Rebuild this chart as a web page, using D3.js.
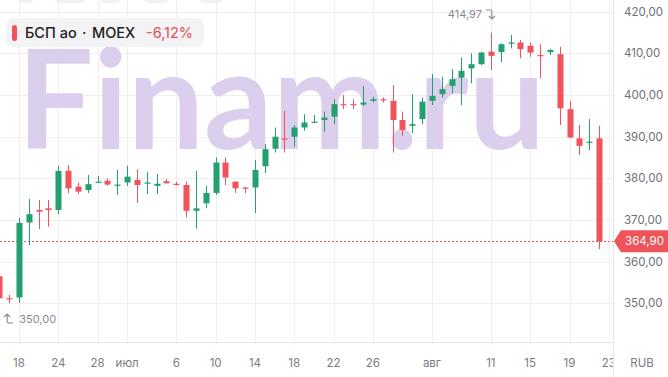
<!DOCTYPE html>
<html><head><meta charset="utf-8">
<script src="https://cdn.jsdelivr.net/npm/d3@7"></script>
<style>html,body{margin:0;padding:0;background:#fff;}svg{display:block;font-family:Inter,"Noto Sans",sans-serif;}</style>
</head><body>
<svg id="c" width="668" height="377"></svg>
<script>
// ---- data ----
const openV  = [356.5,351.2,351.4,369.4,372.4,372.8,372.4,381.8,378.0,377.2,379.0,379.4,378.2,379.0,379.6,378.8,378.2,379.3,378.7,378.4,372.2,374.0,376.5,383.8,379.2,377.8,377.8,382.9,387.1,389.6,390.0,392.2,393.4,394.0,394.8,397.8,397.8,397.7,398.6,399.0,398.6,394.0,392.6,394.2,398.6,400.2,402.2,404.2,406.4,407.4,410.4,410.3,412.5,412.6,411.8,409.6,410.3,409.8,396.6,389.6,388.5,389.6];
const highV  = [357.2,352.0,370.5,375.0,374.8,374.8,383.0,383.2,379.0,380.8,380.6,380.0,382.0,383.0,382.2,381.6,381.0,379.8,379.2,379.2,381.8,378.2,385.0,385.0,379.2,378.0,384.4,388.2,392.2,396.2,392.8,395.4,395.2,396.0,399.0,400.0,399.0,402.2,399.6,399.4,402.4,396.0,400.2,399.4,405.0,404.4,406.2,409.0,410.0,410.4,414.97,412.4,414.4,413.2,412.6,412.2,411.0,411.6,398.6,392.8,394.2,392.6];
const lowV   = [350.6,350.0,350.1,364.0,367.8,368.4,371.4,376.4,376.2,376.5,379.0,378.2,376.0,378.2,374.1,376.2,376.2,378.8,378.3,370.6,367.9,372.8,376.0,378.4,376.5,376.5,371.7,381.3,386.2,386.2,387.6,391.4,393.4,391.2,393.0,396.6,396.6,397.3,398.2,398.2,386.2,390.2,390.8,393.0,397.6,399.4,400.4,397.6,402.8,407.2,406.0,407.9,411.2,408.8,409.2,404.0,409.6,392.8,389.6,385.6,386.8,363.0];
const closeV = [351.2,351.0,369.3,371.4,372.0,372.4,381.8,377.6,376.8,378.6,379.2,378.5,378.5,380.4,378.4,379.0,378.7,378.8,378.5,372.2,372.8,376.5,383.8,380.2,377.6,377.5,382.0,387.0,390.0,389.3,392.2,393.4,393.6,394.6,397.8,397.6,397.6,398.2,399.0,398.8,394.0,391.6,393.0,398.4,399.8,401.4,403.8,405.8,407.4,410.2,409.4,412.2,412.6,411.0,410.2,409.4,410.8,396.8,389.8,387.8,388.8,364.9];
const xTickIdx    = [2,6,10,13,18,22,26,30,34,38,44,50,54,58,62];
const xTickLabels = ["18","24","28","июл","6","10","14","18","22","26","авг","11","15","19","23"];
const yTicks = [350,360,370,380,390,400,410,420];
const lastPrice = 364.90, maxHigh = 414.97, minLow = 350.00;
const maxIdx = 50, minIdx = 1;

// ---- layout ----
const W = 668, H = 377, plotR = 613, plotB = 342;
const GREEN = "#22a06f", RED = "#f0535a";
const svg = d3.select("#c");
const x = d3.scaleLinear().domain([2, 61]).range([19, 599]);
const y = d3.scaleLinear().domain([350, 420]).range([303.3, 11.7]);
const fmt = v => d3.format(".2f")(v).replace(".", ",");

svg.append("defs").append("clipPath").attr("id","plotclip")
  .append("rect").attr("x",0).attr("y",0).attr("width",plotR).attr("height",H);

// top faint toolbar shapes
[[18,33],[55,85],[100,120],[145,168],[200,222]].forEach(([a,b])=>{
  svg.append("rect").attr("x",a).attr("y",-8).attr("width",b-a).attr("height",11).attr("rx",4).attr("fill","#f1f1f3");
});

// grid
const grid = svg.append("g").attr("clip-path","url(#plotclip)");
grid.selectAll("line.h").data(yTicks).join("line")
  .attr("x1",0).attr("x2",plotR).attr("y1",d=>Math.round(y(d))+0.5).attr("y2",d=>Math.round(y(d))+0.5)
  .attr("stroke","#efeff1").attr("stroke-width",1);
grid.selectAll("line.v").data(xTickIdx).join("line")
  .attr("x1",d=>Math.round(x(d))+0.5).attr("x2",d=>Math.round(x(d))+0.5).attr("y1",0).attr("y2",plotB)
  .attr("stroke","#efeff1").attr("stroke-width",1);

// watermark
svg.append("text").attr("x",17).attr("y",149)
  .attr("font-family","Lato, Inter, sans-serif").attr("font-weight",700).attr("font-size",138)
  .attr("textLength",528).attr("lengthAdjust","spacingAndGlyphs")
  .attr("fill","#dccfee").text("Finam.ru");

// axes borders
svg.append("line").attr("x1",plotR+0.5).attr("x2",plotR+0.5).attr("y1",0).attr("y2",H).attr("stroke","#e4e4e7");
svg.append("line").attr("x1",0).attr("x2",plotR).attr("y1",plotB+0.5).attr("y2",plotB+0.5).attr("stroke","#e4e4e7");

// last price dotted line
svg.append("line").attr("x1",0).attr("x2",plotR).attr("y1",Math.round(y(lastPrice))+0.5).attr("y2",Math.round(y(lastPrice))+0.5)
  .attr("stroke",RED).attr("stroke-width",1).attr("stroke-dasharray","2,2");

// candles
const idx = d3.range(openV.length);
const cg = svg.append("g").attr("clip-path","url(#plotclip)");
const col = i => closeV[i] >= openV[i] ? GREEN : RED;
cg.selectAll("line.w").data(idx).join("line")
  .attr("x1",i=>Math.round(x(i))+0.5).attr("x2",i=>Math.round(x(i))+0.5)
  .attr("y1",i=>y(highV[i])).attr("y2",i=>y(lowV[i]))
  .attr("stroke",col).attr("stroke-width",1);
cg.selectAll("rect.b").data(idx).join("rect")
  .attr("x",i=>Math.round(x(i))-2.5).attr("width",6)
  .attr("y",i=>y(Math.max(openV[i],closeV[i])))
  .attr("height",i=>Math.max(1.2, Math.abs(y(openV[i])-y(closeV[i]))))
  .attr("fill",col);

// y axis labels
svg.append("g").selectAll("text").data(yTicks).join("text")
  .attr("x",624).attr("y",d=>y(d)).attr("dy","0.35em")
  .attr("font-size",11.5).attr("fill","#6f6f76").text(fmt);

// price badge
const py = y(lastPrice);
svg.append("path").attr("d",`M614,${py} L621,${py-11} L668,${py-11} L668,${py+11} L621,${py+11} Z`).attr("fill",RED);
svg.append("text").attr("x",644.5).attr("y",py).attr("dy","0.36em").attr("text-anchor","middle")
  .attr("font-size",11.5).attr("fill","#fff").text(fmt(lastPrice));

// x axis labels
const xg = svg.append("g").attr("clip-path","url(#plotclip)");
xg.selectAll("text").data(xTickIdx).join("text")
  .attr("x",d=>x(d)).attr("y",363).attr("dy","0.35em").attr("text-anchor","middle")
  .attr("font-size",11.5).attr("fill","#7b7b82").text((d,i)=>xTickLabels[i]);
svg.append("text").attr("x",642).attr("y",363).attr("dy","0.35em").attr("text-anchor","middle")
  .attr("font-size",11.5).attr("fill","#7b7b82").text("RUB");

// max / min annotations
const mx = x(maxIdx), myy = 14;
svg.append("text").attr("x",mx-9).attr("y",myy).attr("dy","0.35em").attr("text-anchor","end")
  .attr("font-size",11).attr("fill","#8a8a90").text(fmt(maxHigh));
svg.append("path").attr("d",`M${mx-5},${myy-4} L${mx-1},${myy-4} Q${mx+1},${myy-4} ${mx+1},${myy-2} L${mx+1},${myy+5} M${mx-2},${myy+2} L${mx+1},${myy+5} L${mx+4},${myy+2}`)
  .attr("fill","none").attr("stroke","#8a8a90").attr("stroke-width",1.1);
const nx = x(minIdx)-1, ny = 319;
svg.append("text").attr("x",nx+11).attr("y",ny).attr("dy","0.35em")
  .attr("font-size",11).attr("fill","#8a8a90").text(fmt(minLow));
svg.append("path").attr("d",`M${nx+5},${ny+4} L${nx+1},${ny+4} Q${nx-1},${ny+4} ${nx-1},${ny+2} L${nx-1},${ny-5} M${nx-4},${ny-2} L${nx-1},${ny-5} L${nx+2},${ny-2}`)
  .attr("fill","none").attr("stroke","#8a8a90").attr("stroke-width",1.1);

// legend
const lg = svg.append("g");
lg.append("rect").attr("x",6).attr("y",18).attr("width",198).attr("height",29).attr("rx",8).attr("fill","#f2f2f4").attr("fill-opacity",0.95);
lg.append("rect").attr("x",12).attr("y",25).attr("width",5).attr("height",16).attr("rx",2.5).attr("fill",RED);
const lt = lg.append("text").attr("y",33).attr("dy","0.35em").attr("font-size",14.5).attr("font-weight",500);
lt.append("tspan").attr("x",25).attr("fill","#222").text("БСП ао");
lt.append("tspan").attr("x",82).attr("fill","#222").text("·");
lt.append("tspan").attr("x",92).attr("fill","#222").text("MOEX");
lt.append("tspan").attr("x",146).attr("fill","#e0505a").attr("font-weight",400).text("-6,12%");
</script>
</body></html>
